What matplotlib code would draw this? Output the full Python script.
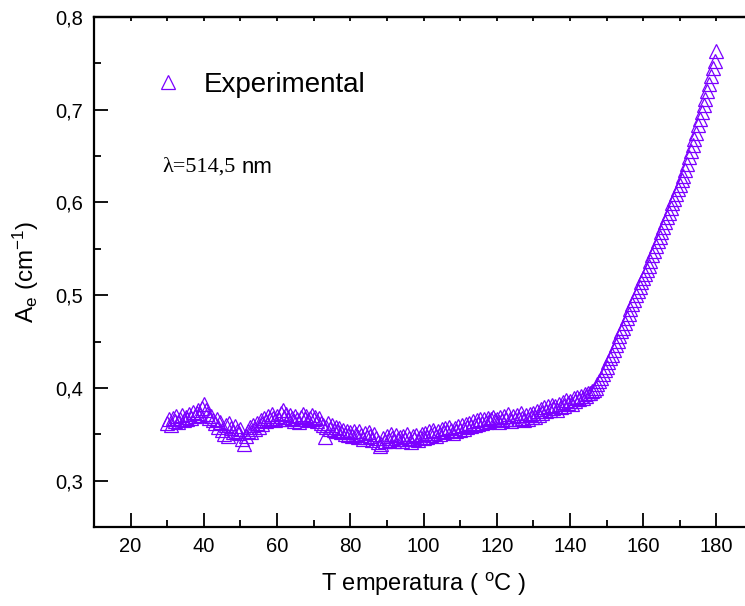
import matplotlib
matplotlib.use('Agg')

import matplotlib.pyplot as plt
from matplotlib.ticker import FixedLocator, MultipleLocator

plt.rcParams['font.family'] = ['Liberation Sans', 'DejaVu Sans']
plt.rcParams['mathtext.fontset'] = 'custom'
plt.rcParams['mathtext.rm'] = 'Liberation Sans'
plt.rcParams['mathtext.it'] = 'Liberation Sans:italic'

# temperatura (oC), passo de 0,5
temperatura = [
    30.0, 30.5, 31.0, 31.5, 32.0, 32.5, 33.0, 33.5, 34.0, 34.5, 35.0, 35.5, 36.0, 36.5, 37.0, 37.5, 38.0, 38.5, 39.0, 39.5,
    40.0, 40.5, 41.0, 41.5, 42.0, 42.5, 43.0, 43.5, 44.0, 44.5, 45.0, 45.5, 46.0, 46.5, 47.0, 47.5, 48.0, 48.5, 49.0, 49.5,
    50.0, 50.5, 51.0, 51.5, 52.0, 52.5, 53.0, 53.5, 54.0, 54.5, 55.0, 55.5, 56.0, 56.5, 57.0, 57.5, 58.0, 58.5, 59.0, 59.5,
    60.0, 60.5, 61.0, 61.5, 62.0, 62.5, 63.0, 63.5, 64.0, 64.5, 65.0, 65.5, 66.0, 66.5, 67.0, 67.5, 68.0, 68.5, 69.0, 69.5,
    70.0, 70.5, 71.0, 71.5, 72.0, 72.5, 73.0, 73.5, 74.0, 74.5, 75.0, 75.5, 76.0, 76.5, 77.0, 77.5, 78.0, 78.5, 79.0, 79.5,
    80.0, 80.5, 81.0, 81.5, 82.0, 82.5, 83.0, 83.5, 84.0, 84.5, 85.0, 85.5, 86.0, 86.5, 87.0, 87.5, 88.0, 88.5, 89.0, 89.5,
    90.0, 90.5, 91.0, 91.5, 92.0, 92.5, 93.0, 93.5, 94.0, 94.5, 95.0, 95.5, 96.0, 96.5, 97.0, 97.5, 98.0, 98.5, 99.0, 99.5,
    100.0, 100.5, 101.0, 101.5, 102.0, 102.5, 103.0, 103.5, 104.0, 104.5, 105.0, 105.5, 106.0, 106.5, 107.0, 107.5, 108.0, 108.5, 109.0, 109.5,
    110.0, 110.5, 111.0, 111.5, 112.0, 112.5, 113.0, 113.5, 114.0, 114.5, 115.0, 115.5, 116.0, 116.5, 117.0, 117.5, 118.0, 118.5, 119.0, 119.5,
    120.0, 120.5, 121.0, 121.5, 122.0, 122.5, 123.0, 123.5, 124.0, 124.5, 125.0, 125.5, 126.0, 126.5, 127.0, 127.5, 128.0, 128.5, 129.0, 129.5,
    130.0, 130.5, 131.0, 131.5, 132.0, 132.5, 133.0, 133.5, 134.0, 134.5, 135.0, 135.5, 136.0, 136.5, 137.0, 137.5, 138.0, 138.5, 139.0, 139.5,
    140.0, 140.5, 141.0, 141.5, 142.0, 142.5, 143.0, 143.5, 144.0, 144.5, 145.0, 145.5, 146.0, 146.5, 147.0, 147.5, 148.0, 148.5, 149.0, 149.5,
    150.0, 150.5, 151.0, 151.5, 152.0, 152.5, 153.0, 153.5, 154.0, 154.5, 155.0, 155.5, 156.0, 156.5, 157.0, 157.5, 158.0, 158.5, 159.0, 159.5,
    160.0, 160.5, 161.0, 161.5, 162.0, 162.5, 163.0, 163.5, 164.0, 164.5, 165.0, 165.5, 166.0, 166.5, 167.0, 167.5, 168.0, 168.5, 169.0, 169.5,
    170.0, 170.5, 171.0, 171.5, 172.0, 172.5, 173.0, 173.5, 174.0, 174.5, 175.0, 175.5, 176.0, 176.5, 177.0, 177.5, 178.0, 178.5, 179.0, 179.5,
    180.0,
]

# coeficiente de absorcao A_e (cm-1)
absorcao = [
    0.362, 0.366, 0.360, 0.368, 0.364, 0.370, 0.363, 0.367, 0.371, 0.365, 0.369, 0.366, 0.372, 0.368, 0.374, 0.370, 0.373, 0.376, 0.371, 0.378,
    0.383, 0.376, 0.372, 0.368, 0.370, 0.365, 0.362, 0.367, 0.358, 0.363, 0.355, 0.350, 0.360, 0.348, 0.362, 0.357, 0.352, 0.359, 0.354, 0.351,
    0.356, 0.345, 0.339, 0.348, 0.353, 0.358, 0.352, 0.360, 0.356, 0.362, 0.358, 0.365, 0.361, 0.368, 0.364, 0.370, 0.366, 0.372, 0.368, 0.365,
    0.370, 0.367, 0.373, 0.376, 0.369, 0.372, 0.366, 0.371, 0.368, 0.364, 0.370, 0.367, 0.363, 0.369, 0.372, 0.366, 0.370, 0.365, 0.368, 0.371,
    0.366, 0.369, 0.364, 0.368, 0.362, 0.360, 0.347, 0.358, 0.362, 0.356, 0.360, 0.355, 0.358, 0.353, 0.357, 0.352, 0.355, 0.350, 0.354, 0.349,
    0.352, 0.348, 0.354, 0.350, 0.347, 0.353, 0.349, 0.345, 0.351, 0.347, 0.352, 0.348, 0.344, 0.350, 0.346, 0.342, 0.337, 0.340, 0.346, 0.343,
    0.348, 0.344, 0.350, 0.346, 0.343, 0.349, 0.345, 0.347, 0.343, 0.348, 0.345, 0.350, 0.346, 0.342, 0.348, 0.345, 0.349, 0.344, 0.347, 0.350,
    0.346, 0.351, 0.347, 0.353, 0.349, 0.355, 0.351, 0.348, 0.354, 0.350, 0.356, 0.352, 0.357, 0.353, 0.358, 0.355, 0.351, 0.357, 0.353, 0.359,
    0.355, 0.360, 0.356, 0.361, 0.358, 0.362, 0.359, 0.364, 0.360, 0.365, 0.361, 0.366, 0.362, 0.367, 0.363, 0.368, 0.364, 0.366, 0.369, 0.365,
    0.367, 0.363, 0.369, 0.365, 0.370, 0.366, 0.372, 0.367, 0.364, 0.370, 0.366, 0.371, 0.367, 0.373, 0.368, 0.365, 0.371, 0.367, 0.372, 0.369,
    0.373, 0.369, 0.375, 0.371, 0.377, 0.373, 0.379, 0.375, 0.381, 0.376, 0.382, 0.378, 0.380, 0.376, 0.383, 0.379, 0.385, 0.381, 0.387, 0.384,
    0.386, 0.383, 0.389, 0.386, 0.390, 0.388, 0.391, 0.389, 0.393, 0.391, 0.395, 0.394, 0.397, 0.398, 0.400, 0.404, 0.407, 0.411, 0.415, 0.419,
    0.423, 0.428, 0.432, 0.436, 0.441, 0.446, 0.451, 0.456, 0.461, 0.465, 0.470, 0.475, 0.480, 0.485, 0.490, 0.495, 0.500, 0.504, 0.509, 0.514,
    0.518, 0.523, 0.527, 0.532, 0.537, 0.543, 0.548, 0.553, 0.558, 0.563, 0.568, 0.574, 0.579, 0.584, 0.589, 0.594, 0.599, 0.604, 0.609, 0.614,
    0.619, 0.624, 0.629, 0.635, 0.642, 0.649, 0.656, 0.662, 0.668, 0.675, 0.683, 0.690, 0.698, 0.705, 0.712, 0.720, 0.728, 0.736, 0.745, 0.753,
    0.763,
]

xticks = [20, 40, 60, 80, 100, 120, 140, 160, 180]
xtick_labels = ['20', '40', '60', '80', '100', '120', '140', '160', '180']
yticks = [0.3, 0.4, 0.5, 0.6, 0.7, 0.8]
ytick_labels = ['0,3', '0,4', '0,5', '0,6', '0,7', '0,8']

cor = '#7B00FF'

fig = plt.figure(figsize=(7.45, 6.06), dpi=100)
# eixo passa da borda direita, como no original (cortado)
ax = fig.add_axes([94 / 745, 79 / 606, 659 / 745, 510 / 606])

ax.plot(temperatura, absorcao, linestyle='none', marker='^', mfc='none',
        mec=cor, ms=9.5, mew=0.9, label='Experimental')

ax.set_xlim(10, 190)
ax.set_ylim(0.25, 0.8)

ax.xaxis.set_major_locator(FixedLocator(xticks))
ax.set_xticklabels(xtick_labels)
ax.xaxis.set_minor_locator(MultipleLocator(10))
ax.yaxis.set_major_locator(FixedLocator(yticks))
ax.set_yticklabels(ytick_labels)
ax.yaxis.set_minor_locator(MultipleLocator(0.05))

ax.tick_params(which='major', direction='in', length=10, width=1.3,
               labelsize=14.5, pad=8, top=False, right=False)
ax.tick_params(which='minor', direction='in', length=5, width=1.3,
               top=False, right=False)
ax.tick_params(axis='x', which='major', pad=7)
for s in ax.spines.values():
    s.set_linewidth(1.6)

# tracinhos pequenos no eixo de cima
topo = ax.secondary_xaxis('top')
topo.xaxis.set_major_locator(MultipleLocator(10))
topo.tick_params(direction='in', length=3, width=1.3, labeltop=False)
topo.spines['top'].set_linewidth(1.6)

ax.set_xlabel(r'T emperatura ( $^\mathregular{o}$C )', fontsize=17)
ax.xaxis.set_label_coords(0.5, -0.085)
ax.set_ylabel(r'A$_\mathregular{e}$ (cm$^\mathregular{-1}$)', fontsize=17.5)
ax.yaxis.set_label_coords(-0.08, 0.5)

leg = ax.legend(loc='upper left', bbox_to_anchor=(0.0926, 0.893), frameon=False,
                fontsize=20, handlelength=0.95, handletextpad=0.8,
                borderpad=0, borderaxespad=0, numpoints=1)

ax.text(0.103, 0.705, u'λ=514,5', transform=ax.transAxes, fontsize=16,
        family=['Liberation Serif', 'DejaVu Serif'], va='center', ha='left')
ax.text(0.2246, 0.705, 'nm', transform=ax.transAxes, fontsize=16,
        va='center', ha='left')

plt.savefig('out.png', dpi=100)
